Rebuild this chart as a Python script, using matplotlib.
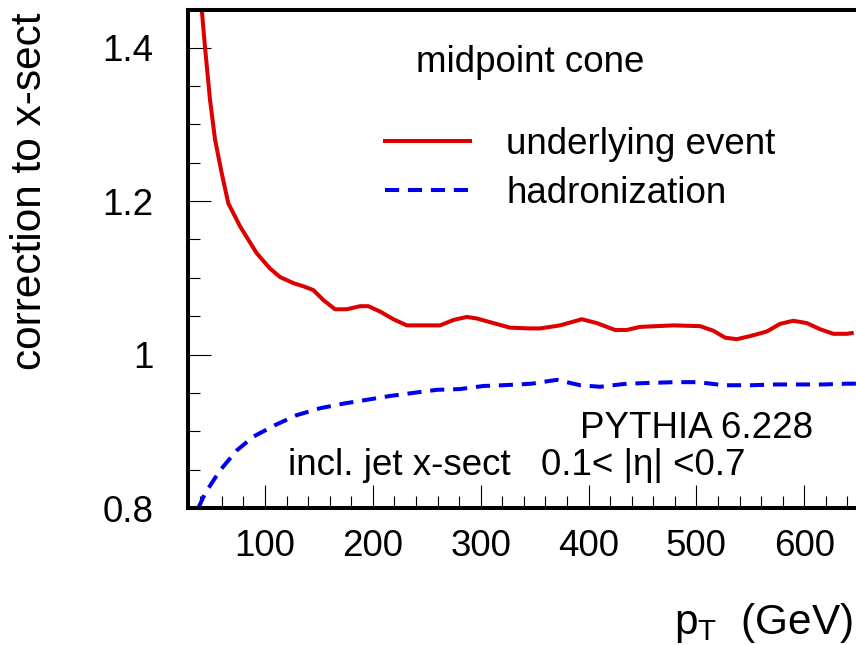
import numpy as np
import matplotlib
matplotlib.use("Agg")
import matplotlib.pyplot as plt
from matplotlib.ticker import MultipleLocator, FormatStrFormatter

plt.rcParams['font.family'] = ['Liberation Sans', 'DejaVu Sans']
plt.rcParams['mathtext.default'] = 'regular'

# underlying event correction
ue_pt = [40.0, 41.4, 44.4, 49.0, 53.7, 59.9, 66.0, 76.9, 92.3, 104.7, 113.9, 126.3,
         135.5, 144.8, 154.1, 164.9, 175.8, 188.1, 195.8, 206.7, 219.0, 231.4, 246.8,
         262.3, 274.6, 287.0, 296.3, 311.7, 327.2, 345.7, 355.0, 373.5, 393.7, 407.6,
         424.5, 435.4, 447.7, 478.6, 503.3, 515.7, 526.5, 537.4, 549.7, 565.2, 577.5,
         589.8, 602.3, 614.6, 626.9, 639.4, 644.0]
ue_corr = [1.470, 1.449, 1.400, 1.332, 1.280, 1.236, 1.197, 1.167, 1.132, 1.112, 1.101, 1.093,
           1.089, 1.084, 1.071, 1.059, 1.059, 1.063, 1.063, 1.056, 1.046, 1.038, 1.038,
           1.038, 1.045, 1.049, 1.047, 1.041, 1.035, 1.034, 1.034, 1.038, 1.046, 1.041,
           1.032, 1.032, 1.036, 1.038, 1.037, 1.031, 1.022, 1.020, 1.024, 1.030, 1.040,
           1.044, 1.041, 1.033, 1.027, 1.027, 1.028]

# hadronization correction
had_pt = [38.2, 44.4, 58.3, 73.8, 89.2, 109.3, 129.4, 151.0, 172.6, 194.3, 215.9, 237.5,
          259.2, 280.8, 302.4, 321.0, 347.3, 370.5, 392.1, 410.6, 435.4, 457.0, 480.2,
          501.8, 525.0, 551.3, 572.9, 596.1, 617.7, 639.4, 650.0]
had_corr = [0.800, 0.819, 0.849, 0.875, 0.893, 0.908, 0.921, 0.930, 0.936, 0.941, 0.946, 0.950,
            0.954, 0.955, 0.959, 0.960, 0.962, 0.967, 0.960, 0.958, 0.962, 0.963, 0.964,
            0.964, 0.960, 0.960, 0.961, 0.961, 0.961, 0.962, 0.962]

W, H = 856, 645
fig = plt.figure(figsize=(W / 100, H / 100), dpi=100)
ax = fig.add_axes([188 / W, 1 - 508 / H, (860.4 - 188) / W, (508 - 10) / H])

ax.plot(ue_pt, ue_corr, color='#dd0000', lw=2.9, label='underlying event')
ax.plot(had_pt, had_corr, color='#0000ee', lw=2.9, dashes=(3.5, 2.2), label='hadronization')

ax.set_xlim(28.6, 652)
ax.set_ylim(0.8, 1.449)

for s in ax.spines.values():
    s.set_linewidth(2.9)
ax.spines['right'].set_visible(False)

ax.xaxis.set_major_locator(MultipleLocator(100))
ax.xaxis.set_minor_locator(MultipleLocator(20))
ax.yaxis.set_major_locator(MultipleLocator(0.2))
ax.yaxis.set_minor_locator(MultipleLocator(0.05))
ax.yaxis.set_major_formatter(FormatStrFormatter('%g'))
ax.tick_params(which='both', direction='in', top=False, right=False, width=0.8, labelsize=26.5)
ax.tick_params(which='major', length=16.5)
ax.tick_params(which='minor', length=8.5)
ax.tick_params(axis='x', which='major', pad=15)
ax.tick_params(axis='y', which='major', pad=25)

fig.text(30 / W, 1 - 13 / H, 'correction to x-sect', rotation=90, ha='center', va='top', fontsize=30.5)
fig.text(853 / W, 1 - 634 / H, r'$p_T$  (GeV)', ha='right', va='baseline', fontsize=30.5)

fig.text(416 / W, 1 - 72 / H, 'midpoint cone', fontsize=26.5, va='baseline')
fig.text(580 / W, 1 - 438 / H, 'PYTHIA 6.228', fontsize=26.5, va='baseline')
fig.text(288 / W, 1 - 475 / H, 'incl. jet x-sect', fontsize=26.5, va='baseline')
fig.text(541 / W, 1 - 475 / H, '0.1< |\u03b7| <0.7', fontsize=26.5, va='baseline')

ax.legend(loc='upper left', bbox_to_anchor=(385 / W, 1 - 127 / H), bbox_transform=fig.transFigure,
          frameon=False, fontsize=26.5, handlelength=2.3, handletextpad=1.0,
          labelspacing=0.37, borderpad=0, borderaxespad=0)

fig.savefig('out.png', dpi=100)
